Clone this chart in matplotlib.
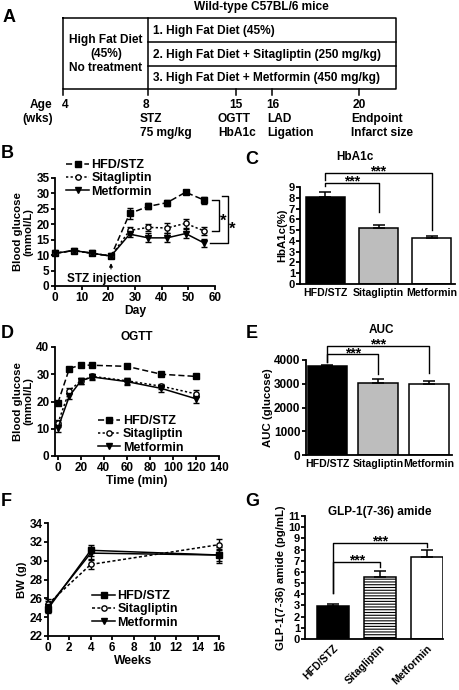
import matplotlib.pyplot as plt

plt.rcParams['font.family'] = ['Liberation Sans', 'DejaVu Sans']
plt.rcParams['font.weight'] = 'bold'
plt.rcParams['axes.labelweight'] = 'bold'
plt.rcParams['axes.linewidth'] = 1.3
plt.rcParams['hatch.linewidth'] = 0.8

# Panel B: weekly blood glucose
days = [0, 7, 14, 21, 28, 35, 42, 49, 56]
bg_hfd = [10.6, 11.5, 10.6, 9.7, 23.5, 25.8, 27.0, 30.4, 27.8]
bg_hfd_err = [0.5, 0.5, 0.5, 0.6, 1.8, 1.0, 1.0, 0.7, 1.2]
bg_sita = [10.6, 11.5, 10.6, 9.7, 18.0, 19.0, 18.8, 20.3, 17.8]
bg_sita_err = [0.5, 0.5, 0.5, 0.6, 1.0, 1.2, 1.5, 1.5, 1.3]
bg_met = [10.6, 11.5, 10.6, 9.7, 16.8, 15.6, 15.6, 17.0, 13.9]
bg_met_err = [0.5, 0.5, 0.5, 0.6, 1.0, 1.5, 1.5, 1.5, 1.2]

# Panel D: OGTT
ogtt_time = [0, 10, 20, 30, 60, 90, 120]
ogtt_hfd = [19.5, 32.1, 33.4, 33.3, 32.9, 30.0, 29.2]
ogtt_hfd_err = [0.8, 0.5, 0.5, 0.5, 0.5, 0.5, 0.5]
ogtt_sita = [12.0, 24.0, 27.6, 29.2, 27.6, 25.6, 22.8]
ogtt_sita_err = [1.2, 1.0, 1.0, 1.0, 1.0, 1.0, 1.3]
ogtt_met = [10.2, 22.0, 27.6, 29.0, 27.3, 24.8, 21.0]
ogtt_met_err = [1.5, 1.2, 1.0, 1.0, 1.2, 1.2, 1.5]

# Panel F: body weight
weeks = [0, 4, 16]
bw_hfd = [24.9, 31.1, 30.6]
bw_hfd_err = [0.5, 0.6, 0.8]
bw_sita = [25.4, 29.6, 31.7]
bw_sita_err = [0.5, 0.5, 0.6]
bw_met = [25.1, 30.8, 30.6]
bw_met_err = [0.6, 0.6, 0.6]

# Bar panels C, E, G
groups = ['HFD/STZ', 'Sitagliptin', 'Metformin']
hba1c = [8.1, 5.15, 4.25]
hba1c_err = [0.4, 0.3, 0.17]
auc = [3750, 3050, 2990]
auc_err = [60, 140, 130]
glp1 = [2.95, 5.55, 7.3]
glp1_err = [0.2, 0.5, 0.7]

W, H = 459, 690
fig = plt.figure(figsize=(W / 100, H / 100), dpi=100)


def rect(left, top, right, bottom):
    # pixel box -> figure fraction
    return [left / W, 1 - bottom / H, (right - left) / W, (bottom - top) / H]


# overlay for schematic and free text, in pixel coordinates
ov = fig.add_axes([0, 0, 1, 1])
ov.set_xlim(0, W)
ov.set_ylim(H, 0)
ov.axis('off')

# ---- Panel A schematic ----
lw = 1.1
ov.plot([63, 396, 396, 63, 63], [18, 18, 89, 89, 18], color='k', lw=lw)
ov.plot([148, 148], [18, 95], color='k', lw=lw)
ov.plot([148, 396], [42, 42], color='k', lw=lw)
ov.plot([148, 396], [66, 66], color='k', lw=lw)
for tx in [63, 236, 272, 359]:
    ov.plot([tx, tx], [89, 95], color='k', lw=lw)

ta = dict(fontsize=8.6, va='center')
ov.text(261, 7, 'Wild-type C57BL/6 mice', ha='center', **ta)
ov.text(106, 54, 'High Fat Diet\n(45%)\nNo treatment', ha='center', linespacing=1.25, **ta)
ov.text(153, 31, '1. High Fat Diet (45%)', ha='left', **ta)
ov.text(153, 55, '2. High Fat Diet + Sitagliptin (250 mg/kg)', ha='left', **ta)
ov.text(153, 78, '3. High Fat Diet + Metformin (450 mg/kg)', ha='left', **ta)
ov.text(41, 105, 'Age', ha='center', **ta)
ov.text(38, 119, '(wks)', ha='center', **ta)
ov.text(65, 105, '4', ha='center', **ta)
ov.text(146, 105, '8', ha='center', **ta)
ov.text(236, 105, '15', ha='center', **ta)
ov.text(273, 105, '16', ha='center', **ta)
ov.text(359, 105, '20', ha='center', **ta)
ov.text(140, 126, 'STZ\n75 mg/kg', ha='left', linespacing=1.3, **ta)
ov.text(218, 126, 'OGTT\nHbA1c', ha='left', linespacing=1.3, **ta)
ov.text(267, 126, 'LAD\nLigation', ha='left', linespacing=1.3, **ta)
ov.text(351, 126, 'Endpoint\nInfarct size', ha='left', linespacing=1.3, **ta)

# panel letters
for letter, x, y in [('A', 9, 18), ('B', 7, 153), ('C', 252, 160), ('D', 7, 333),
                     ('E', 252, 333), ('F', 6, 502), ('G', 252, 502)]:
    ov.text(x, y, letter, ha='center', va='center', fontsize=13)

# titles
tt = dict(ha='center', va='center', fontsize=8.5)
ov.text(355, 157, 'HbA1c', **tt)
ov.text(137, 337, 'OGTT', **tt)
ov.text(381, 330, 'AUC', **tt)
ov.text(380, 512, 'GLP-1(7-36) amide', **tt)


def style(ax, tsize=8.5):
    ax.spines['top'].set_visible(False)
    ax.spines['right'].set_visible(False)
    ax.tick_params(direction='out', length=3, width=1.3, labelsize=tsize, pad=1)
    ax.set_facecolor('none')


def lines(ax, x, series, ms=3.8):
    for (y, e, marker, mfc, ls, label) in series:
        ax.errorbar(x, y, yerr=e, fmt='none', ecolor='k', elinewidth=1, capsize=2,
                    capthick=1, clip_on=False, zorder=2)
        ax.plot(x, y, color='k', marker=marker, mfc=mfc, mec='k', ms=ms, lw=1.1,
                ls=ls, label=label, clip_on=False, zorder=3)


fs_x = 8.7
fs_y = 8.2
leg_kw = dict(loc='upper left', frameon=False, handlelength=1.8, fontsize=9,
              handletextpad=0.2, labelspacing=0.1, borderaxespad=0)

# ---- Panel B ----
axB = fig.add_axes(rect(55, 178, 215, 286))
style(axB)
lines(axB, days, [
    (bg_hfd, bg_hfd_err, 's', 'k', (0, (4, 2)), 'HFD/STZ'),
    (bg_sita, bg_sita_err, 'o', 'w', (0, (1.5, 1.5)), 'Sitagliptin'),
    (bg_met, bg_met_err, 'v', 'k', '-', 'Metformin'),
])
axB.set_xlim(0, 60)
axB.set_ylim(0, 35)
axB.set_xticks(range(0, 61, 10))
axB.set_yticks(range(0, 36, 5))
axB.set_xlabel('Day', fontsize=fs_x, labelpad=1)
axB.set_ylabel('Blood glucose\n(mmol/L)', fontsize=fs_y, labelpad=2, linespacing=1.05)
axB.legend(bbox_to_anchor=(0.04, 1.22), **leg_kw)
axB.text(18.5, 2.3, 'STZ injection', ha='center', va='center', fontsize=8.5)
axB.annotate('', xy=(21, 8.3), xytext=(21, 4.6),
             arrowprops=dict(arrowstyle='-|>', color='k', lw=0.8, mutation_scale=5))
axB.plot([58.9, 61.5, 61.5, 58.9], [27.9, 27.9, 17.8, 17.8], color='k', lw=1, clip_on=False)
axB.plot([62.6, 64.9, 64.9, 58.1], [29.2, 29.2, 13.9, 13.9], color='k', lw=1, clip_on=False)
axB.text(63.0, 19.6, '*', ha='center', va='baseline', fontsize=12)
axB.text(66.6, 16.9, '*', ha='center', va='baseline', fontsize=12)

# ---- Panel D ----
axD = fig.add_axes(rect(55, 347, 219, 456))
style(axD)
lines(axD, ogtt_time, [
    (ogtt_hfd, ogtt_hfd_err, 's', 'k', (0, (4, 2)), 'HFD/STZ'),
    (ogtt_sita, ogtt_sita_err, 'o', 'w', (0, (1.5, 1.5)), 'Sitagliptin'),
    (ogtt_met, ogtt_met_err, 'v', 'k', '-', 'Metformin'),
])
axD.set_xlim(-2.5, 140)
axD.set_ylim(0, 40)
axD.set_xticks(range(0, 141, 20))
axD.set_yticks(range(0, 41, 10))
axD.set_xlabel('Time (min)', fontsize=fs_x, labelpad=1)
axD.set_ylabel('Blood glucose\n(mmol/L)', fontsize=fs_y, labelpad=2, linespacing=1.05)
axD.legend(bbox_to_anchor=(0.23, 0.42), **leg_kw)

# ---- Panel F ----
axF = fig.add_axes(rect(48, 523, 219, 636))
style(axF)
lines(axF, weeks, [
    (bw_hfd, bw_hfd_err, 's', 'k', '-', 'HFD/STZ'),
    (bw_sita, bw_sita_err, 'o', 'w', (0, (2, 1.5)), 'Sitagliptin'),
    (bw_met, bw_met_err, 'v', 'k', '-', 'Metformin'),
])
axF.set_xlim(0, 16)
axF.set_ylim(22, 34)
axF.set_xticks(range(0, 17, 2))
axF.set_yticks(range(22, 35, 2))
axF.set_xlabel('Weeks', fontsize=fs_x, labelpad=1)
axF.set_ylabel('BW (g)', fontsize=fs_y, labelpad=2)
axF.legend(bbox_to_anchor=(0.23, 0.45), **leg_kw)


def bracket(ax, x0, x1, y, y0, y1, fs=10, off=-2):
    ax.plot([x0, x0, x1, x1], [y0, y, y, y1], color='k', lw=1, clip_on=False)
    ax.annotate('***', xy=((x0 + x1) / 2, y), xytext=(0, off), textcoords='offset points',
                ha='center', va='baseline', fontsize=fs, annotation_clip=False)


xpos = [0, 1, 2]
bar_err = dict(elinewidth=1.1, capthick=1.1)

# ---- Panel C ----
axC = fig.add_axes(rect(300, 187, 455, 284))
style(axC, 8)
axC.bar(xpos, hba1c, width=0.74, color=['k', '#bdbdbd', 'w'], edgecolor='k', lw=1.1,
        yerr=[[0, 0, 0], hba1c_err], capsize=4, error_kw=bar_err)
axC.set_xlim(-0.48, 2.44)
axC.set_ylim(0, 9)
axC.set_yticks(range(0, 10))
axC.set_xticks(xpos)
axC.set_xticklabels(groups, fontsize=7.6)
axC.tick_params(axis='x', length=0, pad=3)
axC.tick_params(axis='y', pad=0.5)
axC.set_ylabel('HbA1c(%)', fontsize=fs_y, labelpad=1)
bracket(axC, 0, 1, 9.4, 9.1, 6.7)
bracket(axC, 0, 2, 10.33, 9.65, 5.0)

# ---- Panel E ----
axE = fig.add_axes(rect(306, 360, 452, 455))
style(axE)
axE.bar(xpos, auc, width=0.78, color=['k', '#bdbdbd', 'w'], edgecolor='k', lw=1.1,
        yerr=[[0, 0, 0], auc_err], capsize=4, error_kw=bar_err)
axE.set_xlim(-0.42, 2.45)
axE.set_ylim(0, 4000)
axE.set_yticks(range(0, 4001, 1000))
axE.set_xticks(xpos)
axE.set_xticklabels(groups, fontsize=7.6)
axE.tick_params(axis='x', length=0, pad=3)
axE.set_ylabel('AUC (glucose)', fontsize=fs_y, labelpad=1)
bracket(axE, 0, 1, 4240, 3930, 3410)
bracket(axE, 0, 2, 4590, 3930, 3465)

# ---- Panel G ----
axG = fig.add_axes(rect(305, 516, 443, 639))
style(axG, 8)
axG.bar(xpos, glp1, width=0.68, color=['k', 'w', 'w'], edgecolor='k', lw=1.1,
        hatch=['', '------', ''], yerr=[[0, 0, 0], glp1_err], capsize=4, error_kw=bar_err)
axG.set_xlim(-0.6, 2.34)
axG.set_ylim(0, 11)
axG.set_yticks(range(0, 12))
axG.set_xticks(xpos)
axG.set_xticklabels(groups, rotation=45, ha='right', rotation_mode='anchor', fontsize=7.6)
axG.tick_params(axis='x', length=0, pad=3)
axG.tick_params(axis='y', pad=0.5)
axG.set_ylabel('GLP-1(7-36) amide (pg/mL)', fontsize=fs_y, labelpad=1)
bracket(axG, 0, 1, 6.89, 4.1, 6.4)
bracket(axG, 0, 2, 8.59, 4.1, 8.2)

fig.savefig('out.png', dpi=100)
